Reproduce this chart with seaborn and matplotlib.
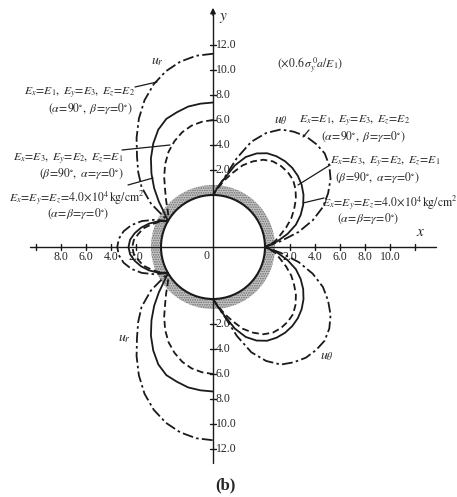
import numpy as np
import pandas as pd
import matplotlib
matplotlib.use("Agg")
import matplotlib.pyplot as plt
import seaborn as sns
from matplotlib.patches import Circle, Wedge

sns.set_theme(style="white")
plt.rcParams["font.family"] = ["Liberation Serif", "DejaVu Serif"]
plt.rcParams["mathtext.fontset"] = "stix"

# Angular stations (deg): from the crown for u_r, from the springline for u_theta
angles = [0, 5, 10, 15, 20, 25, 30, 35, 40, 45, 50, 55, 60, 65, 70, 75, 80, 85, 90]

# Radial displacement u_r (x 0.6 sigma_y0 a / E1), crown -> springline
ur_alpha90 = [11.3, 11.2, 10.9, 10.4, 9.7, 8.8, 7.7, 6.5, 5.3, 4.3, 3.3, 1.9, 0.0,
              -1.0, -1.9, -2.6, -3.1, -3.4, -3.5]
ur_beta90 = [7.4, 7.35, 7.25, 7.0, 6.75, 6.2, 5.4, 4.5, 3.5, 2.5, 1.5, 0.6, 0.0,
             -0.7, -1.3, -1.8, -2.2, -2.5, -2.6]
ur_iso = [6.0, 5.9, 5.7, 5.35, 4.85, 4.25, 3.5, 2.65, 1.8, 1.15, 0.6, 0.2, 0.0,
          -0.6, -1.1, -1.6, -1.9, -2.2, -2.3]

# Tangential displacement u_theta, springline -> crown
ut_alpha90 = [0.0, 1.3, 2.8, 4.1, 5.2, 6.0, 6.7, 7.2, 7.5, 7.5, 7.4, 7.1, 6.7,
              5.9, 4.8, 3.2, 1.6, 0.7, 0.0]
ut_beta90 = [0.0, 1.0, 1.9, 2.7, 3.3, 3.8, 4.2, 4.5, 4.7, 4.8, 4.8, 4.7, 4.5,
             4.1, 3.5, 2.6, 1.5, 0.7, 0.0]
ut_iso = [0.0, 0.8, 1.3, 1.9, 2.5, 3.0, 3.5, 3.9, 4.2, 4.3, 4.3, 4.2, 3.9,
          3.4, 2.8, 2.0, 1.3, 0.6, 0.0]

ticks_vertical = [2, 4, 6, 8, 10, 12]
ticks_right = [2, 4, 6, 8, 10]
ticks_left = [2, 4, 6, 8]

radius = 4.16          # tunnel radius in plot units
ring = 0.8             # width of the shaded zone around the opening
S = 12.5               # pixels per plot unit


def P(px, py):
    return ((px - 213) / S, (247 - py) / S)


def lobe_ur(vals):
    phi = np.array(angles, float)
    u = np.array(vals, float)
    th = np.concatenate([90 + phi, 270 - phi[::-1][1:]])
    uu = np.concatenate([u, u[::-1][1:]])
    r = radius + np.abs(uu)
    t = np.deg2rad(th)
    return r * np.cos(t), r * np.sin(t)


def lobe_ut(vals):
    psi = np.array(angles, float)
    u = np.array(vals, float)
    th = np.concatenate([-psi[::-1], psi[1:]])
    uu = np.concatenate([u[::-1], u[1:]])
    r = radius + np.abs(uu)
    t = np.deg2rad(th)
    return r * np.cos(t), r * np.sin(t)


fig = plt.figure(figsize=(4.57, 4.97), dpi=100)
ax = fig.add_axes([0, 0, 1, 1])
ax.set_xlim(-213 / S, (457 - 213) / S)
ax.set_ylim((247 - 497) / S, 247 / S)
ax.set_aspect("equal")
ax.axis("off")

# shaded zone and tunnel boundary
plt.rcParams["hatch.linewidth"] = 0.8
ax.add_patch(Wedge((0, 0), radius + ring, 0, 360, width=ring,
                   facecolor="#c4c4c4", edgecolor="#6e6e6e", hatch=".......",
                   linewidth=0, zorder=1))
ax.add_patch(Circle((0, 0), radius, fill=False, lw=1.5, color="k", zorder=3))

styles = {
    "alpha90": (0, (6, 1.8, 1.4, 1.8)),
    "beta90": "-",
    "iso": (0, (3.8, 2.0)),
}

rows = []
for key, ur, ut in [("alpha90", ur_alpha90, ut_alpha90),
                    ("beta90", ur_beta90, ut_beta90),
                    ("iso", ur_iso, ut_iso)]:
    for comp, (xs, ys) in [("ur", lobe_ur(ur)), ("ut", lobe_ut(ut))]:
        rows.append(pd.DataFrame({"x": xs, "y": ys, "case": key, "comp": comp}))
df = pd.concat(rows, ignore_index=True)

for (key, comp), sub in df.groupby(["case", "comp"], sort=False):
    sns.lineplot(data=sub, x="x", y="y", sort=False, estimator=None,
                 color="k", lw=1.3, linestyle=styles[key], ax=ax, zorder=4)

# coordinate axes
x0, _ = P(30, 0)
x1, _ = P(436, 0)
_, y0 = P(0, 463)
_, y1 = P(0, 12)
ax.plot([x0, x1], [0, 0], color="k", lw=1.0, zorder=2)
ax.plot([0, 0], [y0, y1], color="k", lw=1.0, zorder=2)
ax.annotate("", xy=(0, P(0, 5)[1]), xytext=(0, y1 - 0.5),
            arrowprops=dict(arrowstyle="-|>", color="k", lw=1.0,
                            mutation_scale=8))

tk = 0.22
tfs = 8.5
for v in ticks_vertical:
    for sgn in (1, -1):
        yy = sgn * (radius + v)
        ax.plot([-tk, tk], [yy, yy], color="k", lw=1.0)
        ax.text(0.22, yy, f"{v:.1f}", ha="left", va="center", fontsize=tfs)
for v in ticks_right + [12]:
    xx = radius + v
    ax.plot([xx, xx], [-tk, tk], color="k", lw=1.0)
    if v in ticks_right:
        ax.text(xx, -0.33, f"{v:.1f}", ha="center", va="top", fontsize=tfs)
for v in ticks_left + [10]:
    xx = -(radius + v)
    ax.plot([xx, xx], [-tk, tk], color="k", lw=1.0)
    if v in ticks_left:
        ax.text(xx, -0.33, f"{v:.1f}", ha="center", va="top", fontsize=tfs)

ax.text(*P(207, 256), "0", ha="center", va="center", fontsize=tfs)
ax.text(*P(223, 18), "$y$", ha="center", va="center", fontsize=11)
ax.text(*P(421, 233), "$x$", ha="center", va="center", fontsize=11)

fs = 8.5
case_a = r"$E_x\!=\!E_1,\ E_y\!=\!E_3,\ E_z\!=\!E_2$"
case_a2 = r"$(\alpha\!=\!90^{\circ},\ \beta\!=\!\gamma\!=\!0^{\circ})$"
case_b = r"$E_x\!=\!E_3,\ E_y\!=\!E_2,\ E_z\!=\!E_1$"
case_b2 = r"$(\beta\!=\!90^{\circ},\ \alpha\!=\!\gamma\!=\!0^{\circ})$"
case_c = r"$E_x\!=\!E_y\!=\!E_z\!=\!4.0\!\times\!10^4\,\mathrm{kg/cm^2}$"
case_c2 = r"$(\alpha\!=\!\beta\!=\!\gamma\!=\!0^{\circ})$"

# left-hand annotations (u_r)
ax.text(*P(157, 62), r"$u_r$", ha="center", va="center", fontsize=10)
ax.text(*P(124, 338), r"$u_r$", ha="center", va="center", fontsize=10)
ax.text(*P(135, 93), case_a, ha="right", va="center", fontsize=fs)
ax.text(*P(133, 109), case_a2, ha="right", va="center", fontsize=fs)
ax.text(*P(123, 159), case_b, ha="right", va="center", fontsize=fs)
ax.text(*P(124, 174), case_b2, ha="right", va="center", fontsize=fs)
ax.text(*P(145, 198), case_c, ha="right", va="center", fontsize=fs)
ax.text(*P(78, 214), case_c2, ha="center", va="center", fontsize=fs)
for a, b in [((135, 87), (157, 82)), ((122, 150), (170, 145)),
             ((128, 185), (153, 178))]:
    (xa, ya), (xb, yb) = P(*a), P(*b)
    ax.plot([xa, xb], [ya, yb], color="k", lw=0.9)

# right-hand annotations (u_theta)
ax.text(*P(281, 121), r"$u_\theta$", ha="center", va="center", fontsize=10)
ax.text(*P(327, 356), r"$u_\theta$", ha="center", va="center", fontsize=10)
ax.text(*P(299, 121), case_a, ha="left", va="center", fontsize=fs)
ax.text(*P(321, 137), case_a2, ha="left", va="center", fontsize=fs)
ax.text(*P(330, 162), case_b, ha="left", va="center", fontsize=fs)
ax.text(*P(335, 178), case_b2, ha="left", va="center", fontsize=fs)
ax.text(*P(322, 203), case_c, ha="left", va="center", fontsize=fs)
ax.text(*P(337, 219), case_c2, ha="left", va="center", fontsize=fs)
for a, b in [((309, 130), (303, 137)), ((330, 165), (298, 185)),
             ((324, 198), (303, 203))]:
    (xa, ya), (xb, yb) = P(*a), P(*b)
    ax.plot([xa, xb], [ya, yb], color="k", lw=0.9)

ax.text(*P(277, 65), r"$(\times0.6\,\sigma_y^{\,0}a/E_1)$", ha="left",
        va="center", fontsize=fs)
ax.text(*P(225, 485), "(b)", ha="center", va="center", fontsize=12,
        fontweight="bold")

fig.savefig("out.png", dpi=100, facecolor="white")
